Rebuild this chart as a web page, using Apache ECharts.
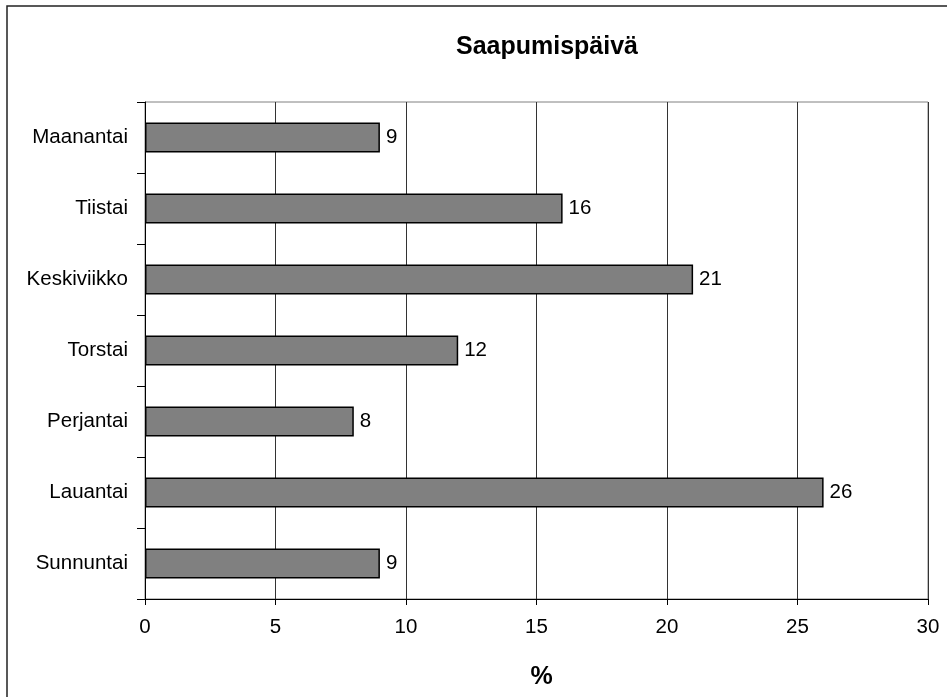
<!DOCTYPE html>
<html>
<head>
<meta charset="utf-8">
<script src="https://cdn.jsdelivr.net/npm/echarts@6/dist/echarts.min.js"></script>
<style>
html,body{margin:0;padding:0;background:#fff;}
#chart{width:947px;height:697px;}
</style>
</head>
<body>
<div id="chart"></div>
<script>
const categories = ["Maanantai", "Tiistai", "Keskiviikko", "Torstai", "Perjantai", "Lauantai", "Sunnuntai"];
const values = [9, 16, 21, 12, 8, 26, 9];
const xTicks = [0, 5, 10, 15, 20, 25, 30];
const titleText = "Saapumispäivä";
const xAxisName = "%";

const chart = echarts.init(document.getElementById('chart'), null, {renderer: 'canvas'});
const font = '"Liberation Sans", Arial, sans-serif';
chart.setOption({
  animation: false,
  backgroundColor: '#fff',
  title: {
    text: titleText,
    left: 542,
    textAlign: 'center',
    top: 30,
    textStyle: {fontFamily: font, fontSize: 25, fontWeight: 'bold', color: '#000'}
  },
  graphic: [{
    type: 'rect',
    shape: {x: 7, y: 6, width: 1200, height: 1200},
    style: {fill: null, stroke: '#222', lineWidth: 1.5},
    silent: true,
    z: 100
  }],
  grid: {
    left: 145, right: 19, top: 102, bottom: 98,
    show: true, borderColor: '#808080', borderWidth: 1, backgroundColor: 'transparent'
  },
  xAxis: {
    type: 'value',
    min: xTicks[0], max: xTicks[xTicks.length - 1], interval: 5,
    name: xAxisName,
    nameLocation: 'middle',
    nameGap: 66,
    nameTextStyle: {fontFamily: font, fontSize: 25, fontWeight: 'bold', color: '#000', padding: [0, 0, 0, 10]},
    axisLine: {show: true, lineStyle: {color: '#000', width: 1}},
    axisTick: {show: true, length: 6, lineStyle: {color: '#000'}},
    axisLabel: {margin: 18, fontFamily: font, fontSize: 20.5, color: '#000',
      formatter: v => xTicks.includes(v) ? String(v) : ''},
    splitLine: {show: true, lineStyle: {color: '#333', width: 1}}
  },
  yAxis: {
    type: 'category',
    data: categories,
    inverse: true,
    axisLine: {show: true, lineStyle: {color: '#000', width: 1}},
    axisTick: {show: true, length: 8, lineStyle: {color: '#000'}},
    axisLabel: {margin: 17, fontFamily: font, fontSize: 20.5, color: '#000'},
    splitLine: {show: false}
  },
  series: [{
    type: 'bar',
    data: values,
    barWidth: '42%',
    itemStyle: {color: '#808080', borderColor: '#000', borderWidth: 1.5},
    label: {show: true, position: 'right', distance: 6, fontFamily: font, fontSize: 20.5, color: '#000'}
  }]
});
</script>
</body>
</html>
